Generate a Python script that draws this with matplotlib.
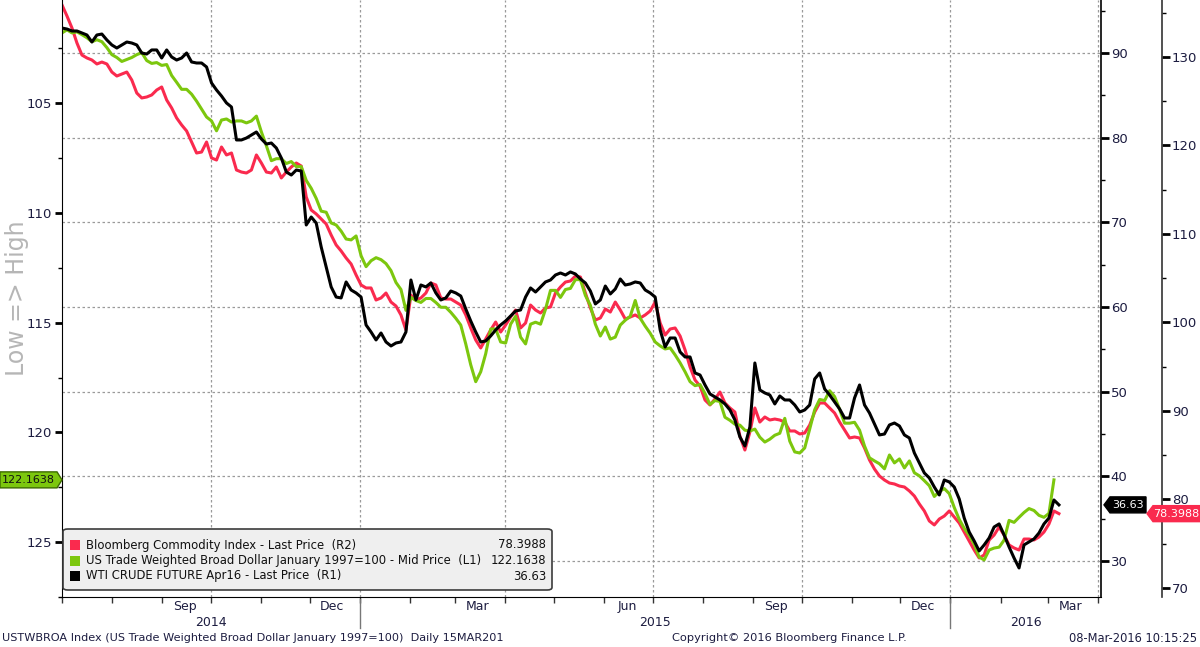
import numpy as np
import pandas as pd
import matplotlib
matplotlib.use("Agg")
import matplotlib.pyplot as plt
import matplotlib.dates as mdates
import matplotlib.transforms as mtransforms
from matplotlib.lines import Line2D
from matplotlib.patches import Polygon, FancyBboxPatch, Rectangle

# ---- data (~3-day spacing) ----
START, END = "2014-07-01", "2016-03-08"

# Bloomberg Commodity Index - Last Price (R2)
bcom = [
    135.88, 134.63, 133.28, 131.58, 130.22, 129.89, 129.66, 129.21, 129.43, 129.21,
    128.30, 127.85, 128.08, 128.30, 127.40, 125.93, 125.37, 125.48, 125.71, 126.27,
    126.61, 125.14, 124.24, 123.11, 122.32, 121.64, 120.39, 119.15, 119.26, 120.39,
    118.59, 118.36, 119.83, 118.93, 119.15, 117.23, 117.00, 116.89, 117.23, 118.93,
    118.02, 117.00, 116.89, 117.57, 116.33, 117.00, 117.57, 118.02, 117.68, 114.18,
    112.71, 112.26, 111.69, 111.13, 109.88, 108.76, 108.08, 107.29, 106.61, 105.37,
    104.24, 103.90, 103.90, 102.54, 102.77, 103.33, 102.31, 101.86, 100.85, 99.15,
    103.10, 102.54, 102.77, 103.33, 104.46, 104.24, 102.77, 102.65, 102.65, 102.31,
    101.97, 100.85, 99.38, 98.02, 97.12, 98.13, 99.15, 100.05, 98.92, 99.72,
    100.62, 101.41, 99.38, 99.94, 101.97, 101.41, 101.07, 101.64, 101.75, 103.33,
    104.01, 104.57, 104.69, 105.25, 105.14, 103.33, 101.64, 100.28, 100.51, 101.52,
    101.18, 102.31, 101.41, 100.39, 100.62, 100.85, 100.51, 100.85, 101.30, 102.31,
    99.94, 98.58, 99.26, 99.38, 98.47, 96.89, 94.97, 93.50, 92.82, 91.24,
    90.68, 91.35, 92.14, 90.90, 90.34, 89.88, 87.17, 85.59, 87.62, 90.34,
    88.75, 89.32, 88.98, 89.09, 88.98, 88.75, 87.74, 87.74, 87.40, 87.51,
    88.41, 89.88, 90.90, 90.90, 90.34, 89.77, 88.75, 87.85, 86.95, 87.06,
    86.95, 85.82, 84.46, 83.44, 82.65, 82.20, 81.86, 81.75, 81.52, 81.41,
    80.96, 80.39, 79.49, 78.70, 77.57, 77.12, 77.79, 78.13, 78.70, 78.02,
    77.34, 76.32, 75.31, 74.29, 73.39, 73.73, 75.42, 75.98, 76.89, 75.98,
    74.86, 74.52, 74.29, 75.53, 75.53, 75.42, 75.76, 76.32, 77.23, 78.70,
    78.3988,
]

# US Trade Weighted Broad Dollar Jan 1997=100 - Mid Price (L1, inverted)
usd = [
    101.80, 101.66, 101.80, 101.75, 101.88, 102.02, 102.20, 102.11, 102.20, 102.47,
    102.79, 102.92, 103.10, 103.01, 102.92, 102.79, 102.70, 103.06, 103.19, 103.15,
    103.28, 103.24, 103.74, 104.05, 104.37, 104.37, 104.59, 104.91, 105.27, 105.63,
    105.81, 106.26, 105.77, 105.72, 105.86, 105.81, 105.81, 105.90, 105.81, 105.59,
    106.31, 106.94, 107.62, 107.53, 107.53, 107.75, 107.66, 107.89, 107.89, 108.52,
    108.88, 109.34, 109.92, 109.97, 110.46, 110.55, 110.83, 111.19, 111.23, 111.05,
    111.95, 112.45, 112.18, 112.04, 112.13, 112.31, 112.63, 113.17, 113.49, 114.44,
    113.85, 113.99, 114.08, 113.90, 113.90, 114.08, 114.30, 114.30, 114.53, 114.80,
    115.11, 115.97, 116.92, 117.69, 117.24, 116.42, 115.29, 115.29, 115.88, 115.93,
    115.07, 114.71, 115.66, 115.97, 115.07, 114.98, 115.07, 114.39, 113.53, 113.53,
    113.85, 113.49, 113.44, 113.04, 113.04, 113.76, 114.21, 115.07, 115.61, 115.20,
    115.75, 115.66, 115.11, 114.89, 114.71, 113.99, 114.80, 115.16, 115.48, 115.88,
    116.06, 116.20, 116.15, 116.47, 116.83, 117.24, 117.69, 117.87, 117.82, 118.23,
    118.73, 118.55, 118.59, 119.31, 119.45, 119.63, 119.67, 119.90, 119.94, 119.85,
    120.22, 120.44, 120.31, 120.13, 120.04, 119.36, 120.40, 120.89, 120.94, 120.71,
    119.85, 118.97, 118.50, 118.55, 118.10, 118.37, 118.95, 119.58, 119.58, 119.54,
    119.90, 120.62, 121.16, 121.30, 121.43, 121.66, 121.03, 121.39, 121.21, 121.62,
    121.30, 121.84, 121.98, 122.20, 122.43, 122.92, 122.70, 122.56, 122.79, 123.42,
    123.96, 124.37, 124.69, 125.09, 125.68, 125.81, 125.36, 125.27, 125.23, 124.91,
    124.01, 124.10, 123.87, 123.65, 123.47, 123.56, 123.78, 123.87, 123.69, 122.1638,
    np.nan,
]

# WTI CRUDE FUTURE Apr16 - Last Price (R1)
wti = [
    92.95, 92.83, 92.60, 92.60, 92.36, 92.13, 91.30, 92.13, 92.24, 91.54,
    90.95, 90.59, 90.95, 91.30, 91.18, 90.95, 90.00, 89.88, 90.36, 90.36,
    89.41, 90.36, 89.53, 89.17, 89.41, 90.00, 88.94, 88.82, 88.82, 88.35,
    86.46, 85.63, 84.92, 84.10, 83.62, 79.73, 79.73, 79.96, 80.32, 80.67,
    79.85, 79.25, 79.37, 78.78, 77.60, 75.95, 75.59, 76.18, 76.06, 69.69,
    70.63, 69.92, 67.09, 64.73, 62.37, 61.18, 61.07, 62.96, 62.01, 61.66,
    61.18, 57.88, 57.05, 56.11, 56.93, 55.87, 55.40, 55.75, 55.87, 57.05,
    63.19, 60.83, 62.60, 62.37, 62.84, 61.66, 60.83, 61.07, 61.89, 61.66,
    61.30, 59.77, 58.35, 57.05, 55.87, 55.99, 56.58, 57.29, 57.88, 58.35,
    58.94, 59.53, 59.65, 61.18, 62.25, 61.77, 62.37, 62.96, 63.19, 63.78,
    64.02, 63.78, 64.14, 63.90, 63.31, 62.84, 61.89, 60.36, 60.83, 62.48,
    61.54, 62.13, 63.31, 62.60, 62.72, 62.96, 62.84, 62.01, 61.66, 61.18,
    57.29, 55.28, 56.34, 56.34, 54.69, 54.10, 54.10, 52.21, 51.97, 50.79,
    49.73, 49.37, 49.02, 48.55, 47.84, 46.66, 44.65, 43.59, 45.83, 53.39,
    50.20, 49.85, 49.61, 48.55, 49.49, 49.02, 49.02, 48.43, 47.60, 47.84,
    48.43, 51.50, 52.21, 50.32, 49.61, 48.78, 47.96, 46.89, 46.89, 49.26,
    50.79, 48.43, 47.48, 46.19, 44.89, 45.00, 46.07, 46.30, 45.95, 44.89,
    44.53, 42.76, 41.58, 40.40, 39.81, 38.74, 37.80, 39.57, 39.34, 38.74,
    37.33, 35.08, 33.43, 32.37, 31.19, 31.90, 32.72, 34.02, 34.38, 33.08,
    31.66, 30.36, 29.18, 31.90, 32.25, 32.61, 33.31, 34.38, 35.08, 37.21,
    36.63,
]

LEGEND_NAMES = [
    "Bloomberg Commodity Index - Last Price  (R2)",
    "US Trade Weighted Broad Dollar January 1997=100 - Mid Price  (L1)",
    "WTI CRUDE FUTURE Apr16 - Last Price  (R1)",
]
L1_TICKS = [105, 110, 115, 120, 125]
R1_TICKS = [30, 40, 50, 60, 70, 80, 90]
R2_TICKS = [70, 80, 90, 100, 110, 120, 130]
MONTH_LABELS = ["Sep", "Dec", "Mar", "Jun", "Sep", "Dec", "Mar"]
MONTH_LABEL_DATES = ["2014-09-15", "2014-12-15", "2015-03-15", "2015-06-15",
                     "2015-09-15", "2015-12-15", "2016-03-15"]
QUARTER_DATES = ["2014-10-01", "2015-01-01", "2015-04-01", "2015-07-01",
                 "2015-10-01", "2016-01-01", "2016-04-01"]
YEARS = ["2014", "2015", "2016"]

RED = "#fa2a4e"
GREEN = "#7cc70e"
NAVY = "#1c1c40"
GRID = "#9a9a9a"

W, H = 1200, 647
def fx(x): return x / W
def fy(y): return 1 - y / H

def dates_for(series):
    return pd.date_range(START, END, periods=len(series))

fig = plt.figure(figsize=(12, 6.47), dpi=100)
ax = fig.add_axes([fx(62), fy(597), fx(1101) - fx(62), fy(0) - fy(597)])
r1 = ax.twinx()
r2 = ax.twinx()
# red lowest, green, black on top
r2.set_zorder(1)
ax.set_zorder(2)
r1.set_zorder(3)
for a in (ax, r1, r2):
    a.patch.set_visible(False)

xmin, xmax = pd.Timestamp("2014-07-01"), pd.Timestamp("2016-04-03")
ax.set_xlim(xmin, xmax)
ax.set_ylim(127.26, 100.30)
r1.set_ylim(25.75, 96.26)
r2.set_ylim(68.98, 136.44)

# grid (dotted), put on the bottom axes so lines sit on top
hgrid = mtransforms.blended_transform_factory(r2.transAxes, r1.transData)
for v in R1_TICKS:
    r2.add_line(Line2D([0, 1], [v, v], transform=hgrid, color=GRID,
                       lw=0.9, ls=(0, (2, 2))))
for q in QUARTER_DATES:
    r2.axvline(pd.Timestamp(q), color=GRID, lw=0.9, ls=(0, (2, 2)))

r2.plot(dates_for(bcom), bcom, color=RED, lw=2.2, solid_joinstyle="round")
ax.plot(dates_for(usd), usd, color=GREEN, lw=2.2, solid_joinstyle="round")
r1.plot(dates_for(wti), wti, color="black", lw=2.2, solid_joinstyle="round")

# spines
for s in ("top", "right"):
    ax.spines[s].set_visible(False)
ax.spines["left"].set_color("black")
ax.spines["bottom"].set_color("black")
for a in (r1, r2):
    for s in ("top", "left", "bottom"):
        a.spines[s].set_visible(False)
r1.spines["right"].set_color("black")
r1.spines["right"].set_linewidth(1.2)
r2.spines["right"].set_position(("outward", 44))
r2.spines["right"].set_color("#333333")
r2.spines["right"].set_linewidth(1.2)

# y ticks
ax.set_yticks(L1_TICKS)
ax.set_yticks(np.arange(102.5, 127.6, 5), minor=True)
ax.tick_params(axis="y", which="major", direction="out", length=5, width=2,
               color="black", labelcolor=NAVY, labelsize=9.5, pad=2)
ax.tick_params(axis="y", which="minor", direction="out", length=3, width=1)
r1.set_yticks(R1_TICKS)
r1.set_yticks(np.arange(35, 96, 10), minor=True)
r2.set_yticks(R2_TICKS)
r2.set_yticks(np.arange(75, 136, 10), minor=True)
for a in (r1, r2):
    a.tick_params(axis="y", which="major", direction="out", length=6, width=2,
                  color="black", labelcolor=NAVY, labelsize=9.5, pad=1)
    a.tick_params(axis="y", which="minor", direction="out", length=3, width=1)

# x ticks: monthly small ticks, month names centred on the month
ax.set_xticks([pd.Timestamp(d) for d in MONTH_LABEL_DATES], labels=MONTH_LABELS)
ax.tick_params(axis="x", which="major", length=0, pad=2, labelsize=9,
               labelcolor=NAVY)
ax.xaxis.set_minor_locator(mdates.MonthLocator())
ax.tick_params(axis="x", which="minor", direction="out", length=4, width=1,
               color="#333333")

xy_trans = mtransforms.blended_transform_factory(ax.transData, ax.transAxes)
year_bounds = [xmin, pd.Timestamp("2015-01-01"), pd.Timestamp("2016-01-01"), xmax]
for i, yr in enumerate(YEARS):
    mid = year_bounds[i] + (year_bounds[i + 1] - year_bounds[i]) / 2
    ax.text(mid, -25 / 597, yr, transform=xy_trans, ha="center", va="center",
            fontsize=9, color=NAVY)
for b in year_bounds[1:3]:
    ax.add_line(Line2D([b, b], [-2 / 597, -31 / 597], transform=xy_trans,
                       color="#777777", lw=1, clip_on=False))

# rotated axis note
fig.text(fx(17), fy(298), "Low => High", rotation=90, fontsize=17,
         color="#b6b6b6", ha="center", va="center")

# legend box
fig.add_artist(FancyBboxPatch((fx(63), fy(590)), fx(552) - fx(63), fy(529) - fy(590),
                              boxstyle="round,pad=0,rounding_size=0.004",
                              transform=fig.transFigure, fc="#efefef",
                              ec="#3c3c3c", lw=1.2, zorder=10))
leg_vals = [f"{bcom[-1]:.4f}", f"{usd[-2]:.4f}", f"{wti[-1]:.2f}"]
for i, (name, col, val) in enumerate(zip(LEGEND_NAMES, [RED, GREEN, "black"], leg_vals)):
    yc = 545 + i * 15.5
    fig.add_artist(Rectangle((fx(70), fy(yc + 5)), fx(80) - fx(70), fy(yc - 5) - fy(yc + 5),
                             transform=fig.transFigure, fc=col, ec="none", zorder=11))
    fig.text(fx(86), fy(yc), name, fontsize=8.4, color="#111111", va="center",
             ha="left", zorder=11)
    fig.text(fx(546), fy(yc), val, fontsize=8.4, color="#111111", va="center",
             ha="right", zorder=11)

# value tags at the axes
inv = fig.transFigure.inverted()
def yfig(a, v):
    return inv.transform(a.transData.transform((0, v)))[1]

def tag(x0, x1, tip, yc, fc, ec, text, tc):
    h = 8 / H
    if tip > x1:
        pts = [(fx(x0), yc - h), (fx(x1), yc - h), (fx(tip), yc), (fx(x1), yc + h), (fx(x0), yc + h)]
    else:
        pts = [(fx(tip), yc), (fx(x0), yc - h), (fx(x1), yc - h), (fx(x1), yc + h), (fx(x0), yc + h)]
    fig.add_artist(Polygon(pts, closed=True, transform=fig.transFigure,
                           fc=fc, ec=ec, lw=1, zorder=12))
    cx = (fx(x0) + fx(x1)) / 2
    fig.text(cx, yc, text, fontsize=8, color=tc, ha="center", va="center", zorder=13)

tag(0, 57, 62, yfig(ax, usd[-2]), GREEN, "#3d6b00", leg_vals[1], "#111111")
tag(1110, 1146, 1104, yfig(r1, wti[-1]), "black", "black", leg_vals[2], "white")
tag(1153, 1200, 1147, yfig(r2, bcom[-1]), RED, RED, leg_vals[0], "white")

# footer
fig.text(fx(2), fy(638), "USTWBROA Index (US Trade Weighted Broad Dollar January 1997=100)  Daily 15MAR201",
         fontsize=8.15, color=NAVY, va="center", ha="left")
fig.text(fx(672), fy(638), "Copyright\u00a9 2016 Bloomberg Finance L.P.",
         fontsize=8.2, color=NAVY, va="center", ha="left")
fig.text(fx(1197), fy(638), "08-Mar-2016 10:15:25",
         fontsize=8.3, color=NAVY, va="center", ha="right")

fig.savefig("out.png", dpi=100, facecolor="white")
